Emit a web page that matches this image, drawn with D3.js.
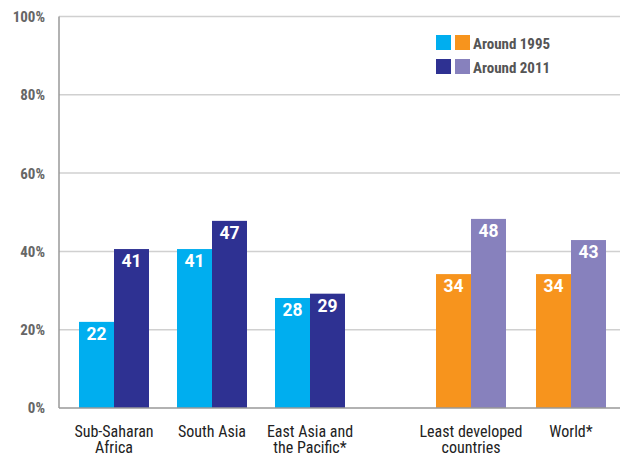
<!DOCTYPE html>
<html><head><meta charset="utf-8">
<script src="https://cdn.jsdelivr.net/npm/d3@7"></script>
<style>
body{margin:0;background:#fff;}
svg{display:block;}
</style></head>
<body>
<script>
const regionsLeft = ["Sub-Saharan|Africa", "South Asia", "East Asia and|the Pacific*"];
const regionsRight = ["Least developed|countries", "World*"];
// bar heights
const values1995Left = [22.0, 40.6, 28.1];
const values2011Left = [40.6, 47.8, 29.2];
const values1995Right = [34.2, 34.2];
const values2011Right = [48.3, 42.9];
// printed labels
const labels1995Left = ["22", "41", "28"];
const labels2011Left = ["41", "47", "29"];
const labels1995Right = ["34", "34"];
const labels2011Right = ["48", "43"];
const yTicks = [0, 20, 40, 60, 80, 100];
const legendLabels = ["Around 1995", "Around 2011"];
const colorsLeft = ["#00AEEF", "#2E3192"];
const colorsRight = ["#F7941D", "#8781BD"];

const W = 622, H = 455;
const svg = d3.select("body").append("svg").attr("width", W).attr("height", H);
const font = "'Liberation Sans Narrow','Roboto Condensed','Liberation Sans',Arial,sans-serif";

const y = d3.scaleLinear().domain([0, 100]).range([408, 16.5]);
const xAxisX = 59, right = 620;

// grid
svg.append("g").selectAll("line").data(yTicks.filter(d => d > 0)).join("line")
  .attr("x1", xAxisX).attr("x2", right)
  .attr("y1", d => y(d)).attr("y2", d => y(d))
  .attr("stroke", "#d0d0d0").attr("stroke-width", 1.5);

// y tick labels
svg.append("g").selectAll("text").data(yTicks).join("text")
  .attr("x", 45).attr("y", d => y(d)).attr("dy", "0.36em")
  .attr("text-anchor", "end")
  .style("font-family", font).style("font-weight", "bold").style("font-size", "15px")
  .attr("fill", "#666").text(d => d + "%");

const xLeft = d3.scaleBand().domain(regionsLeft).range([65, 359]);
const xRight = d3.scaleBand().domain(regionsRight).range([421, 621]);
const sub = d3.scaleBand().domain([0, 1]).range([-35, 35]);

function drawGroup(xs, cats, v1, v2, l1, l2, colors) {
  const g = svg.append("g");
  cats.forEach((c, i) => {
    const cx = xs(c) + xs.bandwidth() / 2;
    [[v1[i], l1[i]], [v2[i], l2[i]]].forEach(([v, lab], j) => {
      const x0 = cx + sub(j);
      g.append("rect").attr("x", x0).attr("width", sub.bandwidth())
        .attr("y", y(v)).attr("height", y(0) - y(v)).attr("fill", colors[j]);
      g.append("text").attr("x", x0 + sub.bandwidth() / 2).attr("y", y(v) + 18)
        .attr("text-anchor", "middle").attr("fill", "#fff")
        .style("font-family", "Roboto,'Liberation Sans',Arial,sans-serif")
        .style("font-weight", "bold").style("font-size", "17.5px").text(lab);
    });
    const lines = c.split("|");
    const t = g.append("text").attr("text-anchor", "middle")
      .style("font-family", font).style("font-size", "16px").attr("fill", "#222");
    lines.forEach((l, k) => {
      t.append("tspan").attr("x", cx).attr("y", 436.5 + k * 16).text(l);
    });
  });
}
drawGroup(xLeft, regionsLeft, values1995Left, values2011Left, labels1995Left, labels2011Left, colorsLeft);
drawGroup(xRight, regionsRight, values1995Right, values2011Right, labels1995Right, labels2011Right, colorsRight);

// axes lines
svg.append("line").attr("x1", xAxisX).attr("x2", xAxisX).attr("y1", y(100)).attr("y2", y(0))
  .attr("stroke", "#999").attr("stroke-width", 1.5);
svg.append("line").attr("x1", xAxisX).attr("x2", right).attr("y1", y(0)).attr("y2", y(0))
  .attr("stroke", "#999").attr("stroke-width", 1.5);

// legend
const leg = svg.append("g");
legendLabels.forEach((l, i) => {
  const ly = 35 + i * 24;
  leg.append("rect").attr("x", 436).attr("y", ly).attr("width", 15).attr("height", 15).attr("fill", colorsLeft[i]);
  leg.append("rect").attr("x", 455).attr("y", ly).attr("width", 15).attr("height", 15).attr("fill", colorsRight[i]);
  leg.append("text").attr("x", 473).attr("y", ly + 13.5)
    .style("font-family", font).style("font-weight", "bold").style("font-size", "15px")
    .attr("fill", "#555").text(l);
});
</script>
</body></html>
